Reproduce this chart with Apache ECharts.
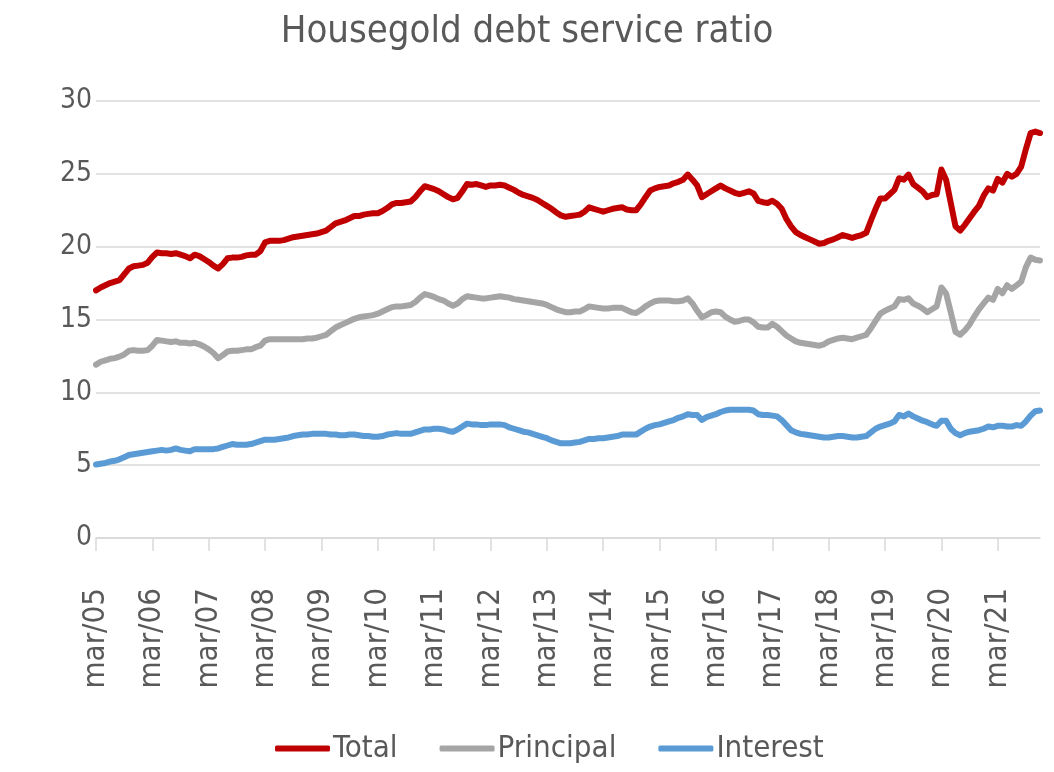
<!DOCTYPE html>
<html>
<head>
<meta charset="utf-8">
<title>Housegold debt service ratio</title>
<script src="https://cdn.jsdelivr.net/npm/echarts@6/dist/echarts.min.js"></script>
<style>
  html, body { margin: 0; padding: 0; background: #fff; }
  #canvas { width: 1054px; height: 772px; }
</style>
</head>
<body>
<div id="canvas"></div>
<script>
// monthly, mar/05 .. dec/21
var monthNames = ['jan', 'feb', 'mar', 'apr', 'may', 'jun', 'jul', 'aug', 'sep', 'oct', 'nov', 'dec'];
var startYear = 2005, startMonth = 2, nMonths = 202;

var total = [
    17.0, 17.2, 17.35, 17.5, 17.6, 17.7, 18.1, 18.5, 18.65, 18.7, 18.75, 18.9,
    19.3, 19.6, 19.55, 19.55, 19.5, 19.55, 19.45, 19.35, 19.2, 19.45, 19.35, 19.15,
    18.95, 18.7, 18.5, 18.8, 19.2, 19.25, 19.25, 19.3, 19.4, 19.45, 19.45, 19.7,
    20.3, 20.4, 20.4, 20.4, 20.45, 20.55, 20.65, 20.7, 20.75, 20.8, 20.85, 20.9,
    21.0, 21.1, 21.35, 21.6, 21.7, 21.8, 21.95, 22.1, 22.1, 22.2, 22.25, 22.3,
    22.3, 22.45, 22.65, 22.9, 23.0, 23.0, 23.05, 23.1, 23.4, 23.8, 24.15, 24.05,
    23.95, 23.8, 23.6, 23.4, 23.25, 23.35, 23.8, 24.3, 24.25, 24.3, 24.2, 24.1,
    24.2, 24.2, 24.25, 24.2, 24.05, 23.9, 23.7, 23.55, 23.45, 23.35, 23.2, 23.0,
    22.8, 22.6, 22.35, 22.15, 22.05, 22.1, 22.15, 22.2, 22.4, 22.7, 22.6, 22.5,
    22.4, 22.5, 22.6, 22.65, 22.7, 22.55, 22.5, 22.5, 22.9, 23.4, 23.85, 24.0,
    24.1, 24.15, 24.2, 24.35, 24.45, 24.6, 24.95, 24.6, 24.2, 23.4, 23.6, 23.8,
    24.0, 24.2, 24.0, 23.85, 23.7, 23.6, 23.7, 23.8, 23.65, 23.15, 23.05, 23.0,
    23.15, 22.95, 22.6, 21.9, 21.4, 21.0, 20.8, 20.65, 20.5, 20.35, 20.2, 20.25,
    20.4, 20.5, 20.65, 20.8, 20.7, 20.6, 20.7, 20.8, 20.95, 21.8, 22.6, 23.3,
    23.3, 23.6, 23.9, 24.7, 24.6, 24.95, 24.3, 24.05, 23.8, 23.4, 23.55, 23.6,
    25.3, 24.6, 23.0, 21.4, 21.1, 21.5, 21.95, 22.4, 22.8, 23.5, 24.0, 23.85,
    24.65, 24.4, 25.0, 24.8, 25.0, 25.5, 26.7, 27.8, 27.9, 27.8
];

var principal = [
    11.9, 12.1, 12.2, 12.3, 12.35, 12.45, 12.6, 12.85, 12.9, 12.85, 12.85, 12.9,
    13.2, 13.6, 13.55, 13.5, 13.45, 13.5, 13.4, 13.4, 13.35, 13.4, 13.3, 13.15,
    12.95, 12.7, 12.35, 12.55, 12.8, 12.85, 12.85, 12.9, 12.95, 12.95, 13.1, 13.2,
    13.55, 13.65, 13.65, 13.65, 13.65, 13.65, 13.65, 13.65, 13.65, 13.7, 13.7, 13.75,
    13.85, 13.95, 14.2, 14.45, 14.6, 14.75, 14.9, 15.05, 15.15, 15.2, 15.25, 15.3,
    15.4, 15.55, 15.7, 15.85, 15.9, 15.9, 15.95, 16.0, 16.2, 16.5, 16.75, 16.65,
    16.55, 16.4, 16.3, 16.1, 15.95, 16.1, 16.4, 16.6, 16.55, 16.5, 16.45, 16.45,
    16.5, 16.55, 16.6, 16.55, 16.5, 16.4, 16.35, 16.3, 16.25, 16.2, 16.15, 16.1,
    16.0, 15.85, 15.7, 15.6, 15.5, 15.5, 15.55, 15.55, 15.7, 15.9, 15.85, 15.8,
    15.75, 15.75, 15.8, 15.8, 15.8, 15.65, 15.5, 15.45, 15.65, 15.9, 16.1, 16.25,
    16.3, 16.3, 16.3, 16.25, 16.25, 16.3, 16.45, 16.1, 15.6, 15.15, 15.3, 15.5,
    15.55, 15.5, 15.2, 15.0, 14.85, 14.9, 15.0, 15.0, 14.8, 14.5, 14.45, 14.45,
    14.7, 14.5, 14.2, 13.9, 13.7, 13.5, 13.4, 13.35, 13.3, 13.25, 13.2, 13.3,
    13.5, 13.6, 13.7, 13.75, 13.7, 13.65, 13.75, 13.85, 13.95, 14.4, 14.9, 15.4,
    15.6, 15.75, 15.9, 16.4, 16.35, 16.45, 16.1, 15.95, 15.75, 15.5, 15.7, 15.9,
    17.2, 16.8, 15.5, 14.15, 13.95, 14.25, 14.65, 15.2, 15.7, 16.1, 16.5, 16.35,
    17.1, 16.8, 17.35, 17.1, 17.35, 17.6, 18.6, 19.25, 19.1, 19.05
];

var interest = [
    5.05, 5.1, 5.15, 5.25, 5.3, 5.4, 5.55, 5.7, 5.75, 5.8, 5.85, 5.9,
    5.95, 6.0, 6.05, 6.0, 6.05, 6.15, 6.05, 6.0, 5.95, 6.1, 6.1, 6.1,
    6.1, 6.1, 6.15, 6.25, 6.35, 6.45, 6.4, 6.4, 6.4, 6.45, 6.55, 6.65,
    6.75, 6.75, 6.75, 6.8, 6.85, 6.9, 7.0, 7.05, 7.1, 7.1, 7.15, 7.15,
    7.15, 7.15, 7.1, 7.1, 7.05, 7.05, 7.1, 7.1, 7.05, 7.0, 7.0, 6.95,
    6.95, 7.0, 7.1, 7.15, 7.2, 7.15, 7.15, 7.15, 7.25, 7.35, 7.45, 7.45,
    7.5, 7.5, 7.45, 7.35, 7.3, 7.45, 7.65, 7.85, 7.8, 7.8, 7.75, 7.75,
    7.8, 7.8, 7.8, 7.75, 7.6, 7.5, 7.4, 7.3, 7.25, 7.15, 7.05, 6.95,
    6.85, 6.7, 6.6, 6.5, 6.5, 6.5, 6.55, 6.6, 6.7, 6.8, 6.8, 6.85,
    6.85, 6.9, 6.95, 7.0, 7.1, 7.1, 7.1, 7.1, 7.3, 7.5, 7.65, 7.75,
    7.8, 7.9, 8.0, 8.1, 8.25, 8.35, 8.5, 8.45, 8.45, 8.1, 8.3, 8.4,
    8.5, 8.65, 8.75, 8.8, 8.8, 8.8, 8.8, 8.8, 8.75, 8.5, 8.45, 8.45,
    8.4, 8.35, 8.1, 7.75, 7.4, 7.25, 7.15, 7.1, 7.05, 7.0, 6.95, 6.9,
    6.9, 6.95, 7.0, 7.0, 6.95, 6.9, 6.9, 6.95, 7.0, 7.25, 7.5, 7.65,
    7.75, 7.85, 8.0, 8.45, 8.35, 8.55, 8.35, 8.2, 8.05, 7.95, 7.8, 7.7,
    8.05, 8.05, 7.5, 7.2, 7.05, 7.2, 7.3, 7.35, 7.4, 7.5, 7.65, 7.6,
    7.7, 7.7, 7.65, 7.65, 7.75, 7.7, 8.0, 8.4, 8.7, 8.75
];

var categories = [];
for (var i = 0; i < nMonths; i++) {
    var m = startMonth + i;
    var yy = (startYear + Math.floor(m / 12)) % 100;
    categories.push(monthNames[m % 12] + '/' + (yy < 10 ? '0' + yy : '' + yy));
}

var font = "'DejaVu Sans Condensed', 'Open Sans', sans-serif";
var textColor = '#595959';
var gridColor = '#d9d9d9';

var mkSeries = function(name, data, color) {
    return {
        name: name,
        type: 'line',
        data: data,
        showSymbol: false,
        symbol: 'none',
        smooth: false,
        lineStyle: { width: 6, color: color, cap: 'round', join: 'round' },
        itemStyle: { color: color },
        emphasis: { disabled: true },
        animation: false
    };
};

var myChart = echarts.init(document.getElementById('canvas'));
var option = {
    backgroundColor: '#ffffff',
    animation: false,
    title: {
        text: 'Housegold debt service ratio',
        left: 'center',
        top: 8,
        textStyle: { fontFamily: font, fontSize: 38, fontWeight: 'normal', color: textColor }
    },
    legend: {
        top: 728,
        left: 270,
        icon: 'roundRect',
        itemWidth: 55,
        itemHeight: 6,
        itemGap: 42,
        textStyle: { fontFamily: font, fontSize: 31, color: textColor, padding: [0, 0, 0, -2] },
        data: ['Total', 'Principal', 'Interest']
    },
    grid: { left: 96, right: 14, top: 101, bottom: 234, containLabel: false },
    xAxis: {
        type: 'category',
        data: categories,
        boundaryGap: false,
        axisLine: { lineStyle: { color: gridColor, width: 1.5 } },
        axisTick: { interval: 11, length: 13, lineStyle: { color: gridColor, width: 1.5 } },
        axisLabel: {
            interval: 11,
            rotate: 90,
            margin: 50,
            fontFamily: font,
            fontSize: 31,
            color: textColor
        },
        splitLine: { show: false }
    },
    yAxis: {
        type: 'value',
        min: 0,
        max: 30,
        interval: 5,
        axisLine: { show: false },
        axisTick: { show: false },
        axisLabel: { margin: 4, fontFamily: font, fontSize: 28, color: textColor },
        splitLine: { lineStyle: { color: gridColor, width: 1.5 } }
    },
    series: [
        mkSeries('Total', total, '#c00000'),
        mkSeries('Principal', principal, '#a5a5a5'),
        mkSeries('Interest', interest, '#5b9bd5')
    ]
};
myChart.setOption(option);
</script>
</body>
</html>
